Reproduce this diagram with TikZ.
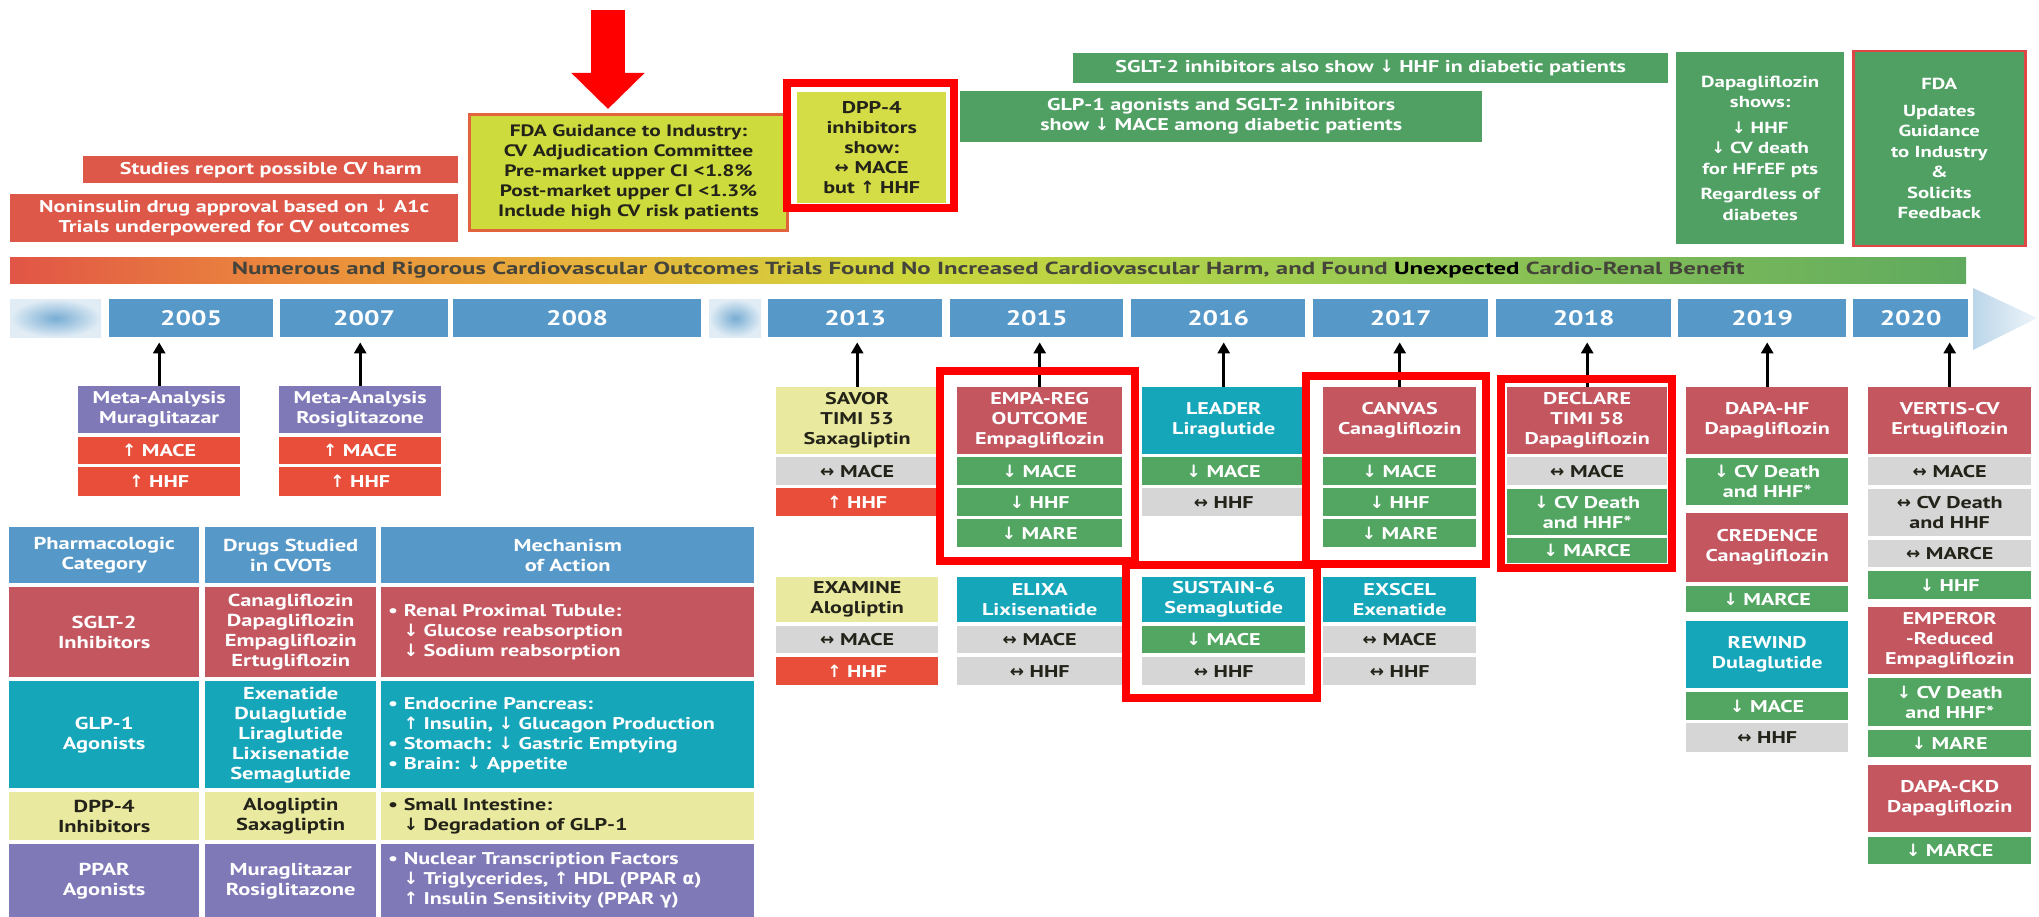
\documentclass[tikz,border=0pt]{standalone}
\usepackage{fontspec}
\setmainfont{PT Sans}[FakeStretch=1.3]
\newfontfamily\symf{DejaVu Sans}
\newfontfamily\barf{PT Sans}[FakeStretch=1.42]
\usetikzlibrary{arrows.meta}
\definecolor{yearBlue}{RGB}{86,152,200}
\definecolor{topRed}{RGB}{221,88,72}
\definecolor{metRed}{RGB}{232,78,58}
\definecolor{rose}{RGB}{196,86,96}
\definecolor{tealC}{RGB}{22,166,186}
\definecolor{paleY}{RGB}{233,233,160}
\definecolor{purp}{RGB}{128,121,184}
\definecolor{grn}{RGB}{82,166,98}
\definecolor{topGrn}{RGB}{80,160,100}
\definecolor{gry}{RGB}{214,214,214}
\definecolor{fdaY}{RGB}{205,220,60}
\definecolor{fdaBorder}{RGB}{225,100,60}
\definecolor{dppY}{RGB}{212,220,70}
\definecolor{txtDark}{RGB}{35,35,25}
\definecolor{pureRed}{RGB}{255,0,0}
\definecolor{updRed}{RGB}{225,70,70}
\definecolor{g0}{RGB}{225,85,70}
\definecolor{g1}{RGB}{235,140,60}
\definecolor{g2}{RGB}{232,180,60}
\definecolor{g3}{RGB}{205,215,60}
\definecolor{g4}{RGB}{160,205,80}
\definecolor{g5}{RGB}{95,170,95}
\pgfdeclarehorizontalshading{gbarsh}{100bp}{color(0bp)=(g0); color(25bp)=(g0); color(32.5bp)=(g1); color(40bp)=(g2); color(48bp)=(g3); color(58bp)=(g4); color(75bp)=(g5); color(100bp)=(g5)}
\newcommand\UA{{\symf ↑}}
\newcommand\DA{{\symf ↓}}
\newcommand\LRA{{\symf ↔}}
\newcommand\bx[7]{\node[#6,anchor=north west,minimum width=#4pt-#2pt,minimum height=#5pt-#3pt] (#1) at (#2,#3) {#7};}
\tikzset{
  cell/.style={rectangle,inner sep=1pt,align=center,text=white,font=\fontsize{17}{20}\selectfont\bfseries},
  dk/.style={text=txtDark},
  tY/.style={fill=paleY,text=txtDark},
  tR/.style={fill=rose},
  tT/.style={fill=tealC},
  tP/.style={fill=purp},
  mG/.style={fill=grn},
  mGr/.style={fill=gry,text=txtDark},
  mR/.style={fill=metRed},
  yearbox/.style={cell,fill=yearBlue,font=\fontsize{21}{24}\selectfont\bfseries},
  blurbox/.style={rectangle,inner sep=0pt,inner color=yearBlue!80,outer color=yearBlue!18},
  tcell/.style={cell,font=\fontsize{17.3}{20}\selectfont\bfseries},
  mech/.style={anchor=west,align=left,inner sep=0pt,text=white,font=\fontsize{17}{20}\selectfont\bfseries},
  conn/.style={draw=black,line width=3pt,-{Triangle[length=11pt,width=12pt]},shorten >=5pt},
  bigarr/.style={draw=pureRed,line width=34pt,-{Triangle[length=36pt,width=71pt]},shorten >=4pt},
  hl/.style={draw=pureRed,line width=8pt}
}
\begin{document}
\begin{tikzpicture}[x=1pt,y=-1pt]
\useasboundingbox (0,0) rectangle (2039,917);
\fill[white] (0,0) rectangle (2039,917);

% ---------- top annotations ----------
\bx{studies}{83}{156}{458}{183}{cell,fill=topRed}{Studies report possible CV harm}
\bx{nonins}{10}{194}{458}{242}{cell,fill=topRed}{Noninsulin drug approval based on \DA\ A1c\\Trials underpowered for CV outcomes}
\bx{fda}{468}{113}{786}{229}{cell,dk,fill=fdaY,draw=fdaBorder,line width=3pt,font=\fontsize{16.5}{20}\selectfont\bfseries}{FDA Guidance to Industry:\\CV Adjudication Committee\\Pre-market upper CI <1.8\%\\Post-market upper CI <1.3\%\\Include high CV risk patients}
\coordinate (arrtop) at (608,10);
\draw[bigarr] (arrtop) -- (arrtop |- fda.north);
\bx{dpptop}{797}{92}{946}{203}{cell,dk,fill=dppY}{DPP-4\\inhibitors\\show:\\\LRA\ MACE\\but \UA\ HHF}
\bx{glptop}{960}{91}{1482}{142}{cell,fill=topGrn,font=\fontsize{17}{20}\selectfont\bfseries}{GLP-1 agonists and SGLT-2 inhibitors\\show \DA\ MACE among diabetic patients}
\bx{sglttop}{1073}{53}{1668}{83}{cell,fill=topGrn,font=\fontsize{17}{20}\selectfont\bfseries}{SGLT-2 inhibitors also show \DA\ HHF in diabetic patients}
\bx{dapatop}{1676}{52}{1844}{244}{cell,fill=topGrn,font=\fontsize{16}{20.5}\selectfont\bfseries}{Dapagliflozin\\shows:\\[5pt]\DA\ HHF\\\DA\ CV death\\for HFrEF pts\\[5pt]Regardless of\\diabetes}
\bx{fdaupd}{1852}{50}{2024}{245}{cell,fill=topGrn,draw=updRed,line width=2.5pt,font=\fontsize{16}{20.5}\selectfont\bfseries}{FDA\\[6pt]Updates\\Guidance\\to Industry\\\&\\Solicits\\Feedback}

% ---------- gradient bar ----------
\node[anchor=north west,minimum width=1956pt,minimum height=26pt,inner sep=0pt,shade,shading=gbarsh,text=txtDark!85,font=\barf\fontsize{17.5}{20}\selectfont\bfseries] (gbar) at (10,257) {Numerous and Rigorous Cardiovascular Outcomes Trials Found No Increased Cardiovascular Harm, and Found \textcolor{black}{Unexpected} Cardio-Renal Benefit};

% ---------- timeline ----------
\bx{blur1}{10}{299}{101}{337}{blurbox}{}
\bx{y2005}{109}{299}{273}{337}{yearbox}{2005}
\bx{y2007}{280}{299}{448}{337}{yearbox}{2007}
\bx{y2008}{453}{299}{701}{337}{yearbox}{2008}
\bx{blur2}{709}{299}{761}{337}{blurbox}{}
\bx{y2013}{768}{299}{942}{337}{yearbox}{2013}
\bx{y2015}{950}{299}{1123}{337}{yearbox}{2015}
\bx{y2016}{1131}{299}{1305}{337}{yearbox}{2016}
\bx{y2017}{1313}{299}{1488}{337}{yearbox}{2017}
\bx{y2018}{1496}{299}{1671}{337}{yearbox}{2018}
\bx{y2019}{1678}{299}{1846}{337}{yearbox}{2019}
\bx{y2020}{1853}{299}{1968}{337}{yearbox}{2020}
\shade[left color=yearBlue!40,right color=yearBlue!10] (1973,288) -- (2037,318) -- (1973,350) -- cycle;

% ---------- early trials ----------
\bx{muraT}{78}{386}{240}{433}{cell,tP}{Meta-Analysis\\Muraglitazar}
\bx{muraA}{78}{437}{240}{464}{cell,mR}{\UA\ MACE}
\bx{muraB}{78}{467}{240}{496}{cell,mR}{\UA\ HHF}
\bx{rosiT}{279}{386}{441}{433}{cell,tP}{Meta-Analysis\\Rosiglitazone}
\bx{rosiA}{279}{437}{441}{464}{cell,mR}{\UA\ MACE}
\bx{rosiB}{279}{467}{441}{496}{cell,mR}{\UA\ HHF}

% ---------- table ----------
\bx{h1}{9}{527}{199}{583}{tcell,fill=yearBlue}{Pharmacologic\\Category}
\bx{h2}{205}{527}{376}{583}{tcell,fill=yearBlue}{Drugs Studied\\in CVOTs}
\bx{h3}{381}{527}{754}{583}{tcell,fill=yearBlue}{Mechanism\\of Action}
\bx{s1}{9}{587}{199}{677}{tcell,tR}{SGLT-2\\Inhibitors}
\bx{s2}{205}{587}{376}{677}{tcell,tR}{Canagliflozin\\Dapagliflozin\\Empagliflozin\\Ertugliflozin}
\bx{s3}{381}{587}{754}{677}{tcell,tR}{}
\node[mech] (s3t) at ([xshift=7pt]s3.west) {• Renal Proximal Tubule:\\\hphantom{• }\DA\ Glucose reabsorption\\\hphantom{• }\DA\ Sodium reabsorption};
\bx{g1}{9}{681}{199}{788}{tcell,tT}{GLP-1\\Agonists}
\bx{g2}{205}{681}{376}{788}{tcell,tT}{Exenatide\\Dulaglutide\\Liraglutide\\Lixisenatide\\Semaglutide}
\bx{g3}{381}{681}{754}{788}{tcell,tT}{}
\node[mech] (g3t) at ([xshift=7pt]g3.west) {• Endocrine Pancreas:\\\hphantom{• }\UA\ Insulin, \DA\ Glucagon Production\\• Stomach: \DA\ Gastric Emptying\\• Brain: \DA\ Appetite};
\bx{d1}{9}{792}{199}{840}{tcell,tY}{DPP-4\\Inhibitors}
\bx{d2}{205}{792}{376}{840}{tcell,tY}{Alogliptin\\Saxagliptin}
\bx{d3}{381}{792}{754}{840}{tcell,tY}{}
\node[mech,text=txtDark] (d3t) at ([xshift=7pt]d3.west) {• Small Intestine:\\\hphantom{• }\DA\ Degradation of GLP-1};
\bx{p1}{9}{844}{199}{917}{tcell,tP}{PPAR\\Agonists}
\bx{p2}{205}{844}{376}{917}{tcell,tP}{Muraglitazar\\Rosiglitazone}
\bx{p3}{381}{844}{754}{917}{tcell,tP}{}
\node[mech] (p3t) at ([xshift=7pt]p3.west) {• Nuclear Transcription Factors\\\hphantom{• }\DA\ Triglycerides, \UA\ HDL (PPAR {\symf α})\\\hphantom{• }\UA\ Insulin Sensitivity (PPAR {\symf γ})};

% ---------- CVOT trials ----------
\bx{savorT}{776}{387}{938}{454}{cell,tY}{SAVOR\\TIMI 53\\Saxagliptin}
\bx{savorA}{776}{457}{938}{485}{cell,mGr}{\LRA\ MACE}
\bx{savorB}{776}{488}{938}{516}{cell,mR}{\UA\ HHF}
\bx{examT}{776}{577}{938}{622}{cell,tY}{EXAMINE\\Alogliptin}
\bx{examA}{776}{626}{938}{653}{cell,mGr}{\LRA\ MACE}
\bx{examB}{776}{657}{938}{685}{cell,mR}{\UA\ HHF}

\bx{empaT}{957}{387}{1122}{454}{cell,tR}{EMPA-REG\\OUTCOME\\Empagliflozin}
\bx{empaA}{957}{457}{1122}{485}{cell,mG}{\DA\ MACE}
\bx{empaB}{957}{488}{1122}{516}{cell,mG}{\DA\ HHF}
\bx{empaC}{957}{519}{1122}{547}{cell,mG}{\DA\ MARE}
\bx{elixT}{957}{577}{1122}{622}{cell,tT}{ELIXA\\Lixisenatide}
\bx{elixA}{957}{626}{1122}{653}{cell,mGr}{\LRA\ MACE}
\bx{elixB}{957}{657}{1122}{685}{cell,mGr}{\LRA\ HHF}

\bx{leadT}{1142}{387}{1305}{454}{cell,tT}{LEADER\\Liraglutide}
\bx{leadA}{1142}{457}{1305}{485}{cell,mG}{\DA\ MACE}
\bx{leadB}{1142}{488}{1305}{516}{cell,mGr}{\LRA\ HHF}
\bx{sustT}{1142}{577}{1305}{622}{cell,tT}{SUSTAIN-6\\Semaglutide}
\bx{sustA}{1142}{626}{1305}{653}{cell,mG}{\DA\ MACE}
\bx{sustB}{1142}{657}{1305}{685}{cell,mGr}{\LRA\ HHF}

\bx{canvT}{1323}{387}{1476}{454}{cell,tR}{CANVAS\\Canagliflozin}
\bx{canvA}{1323}{457}{1476}{485}{cell,mG}{\DA\ MACE}
\bx{canvB}{1323}{488}{1476}{516}{cell,mG}{\DA\ HHF}
\bx{canvC}{1323}{519}{1476}{547}{cell,mG}{\DA\ MARE}
\bx{exscT}{1323}{577}{1476}{622}{cell,tT}{EXSCEL\\Exenatide}
\bx{exscA}{1323}{626}{1476}{653}{cell,mGr}{\LRA\ MACE}
\bx{exscB}{1323}{657}{1476}{685}{cell,mGr}{\LRA\ HHF}

\bx{declT}{1507}{387}{1667}{454}{cell,tR}{DECLARE\\TIMI 58\\Dapagliflozin}
\bx{declA}{1507}{457}{1667}{485}{cell,mGr}{\LRA\ MACE}
\bx{declB}{1507}{489}{1667}{535}{cell,mG}{\DA\ CV Death\\and HHF*}
\bx{declC}{1507}{538}{1667}{563}{cell,mG}{\DA\ MARCE}

\bx{dapaT}{1686}{387}{1848}{454}{cell,tR}{DAPA-HF\\Dapagliflozin}
\bx{dapaA}{1686}{458}{1848}{505}{cell,mG}{\DA\ CV Death\\and HHF*}
\bx{credT}{1686}{513}{1848}{582}{cell,tR}{CREDENCE\\Canagliflozin}
\bx{credA}{1686}{586}{1848}{612}{cell,mG}{\DA\ MARCE}
\bx{rewT}{1686}{621}{1848}{688}{cell,tT}{REWIND\\Dulaglutide}
\bx{rewA}{1686}{692}{1848}{720}{cell,mG}{\DA\ MACE}
\bx{rewB}{1686}{723}{1848}{752}{cell,mGr}{\LRA\ HHF}

\bx{vertT}{1868}{387}{2031}{454}{cell,tR}{VERTIS-CV\\Ertugliflozin}
\bx{vertA}{1868}{457}{2031}{485}{cell,mGr}{\LRA\ MACE}
\bx{vertB}{1868}{489}{2031}{536}{cell,mGr}{\LRA\ CV Death\\and HHF}
\bx{vertC}{1868}{540}{2031}{567}{cell,mGr}{\LRA\ MARCE}
\bx{vertD}{1868}{571}{2031}{599}{cell,mG}{\DA\ HHF}
\bx{empeT}{1868}{607}{2031}{674}{cell,tR}{EMPEROR\\-Reduced\\Empagliflozin}
\bx{empeA}{1868}{678}{2031}{726}{cell,mG}{\DA\ CV Death\\and HHF*}
\bx{empeB}{1868}{730}{2031}{757}{cell,mG}{\DA\ MARE}
\bx{dckdT}{1868}{765}{2031}{832}{cell,tR}{DAPA-CKD\\Dapagliflozin}
\bx{dckdA}{1868}{837}{2031}{864}{cell,mG}{\DA\ MARCE}

% ---------- connectors to the timeline ----------
\foreach \t/\y in {muraT/y2005,rosiT/y2007,savorT/y2013,empaT/y2015,leadT/y2016,canvT/y2017,declT/y2018,dapaT/y2019,vertT/y2020}
  \draw[conn] (\t.north) -- (\t.north |- \y.south);

% ---------- red highlight frames ----------
\draw[hl] (787,83) rectangle (954,208);
\draw[hl] (940,371) rectangle (1135,561);
\draw[hl] (1306,376) rectangle (1486,564);
\draw[hl] (1501,379) rectangle (1672,568);
\draw[hl] (1126,565) rectangle (1317,698);
\end{tikzpicture}
\end{document}
